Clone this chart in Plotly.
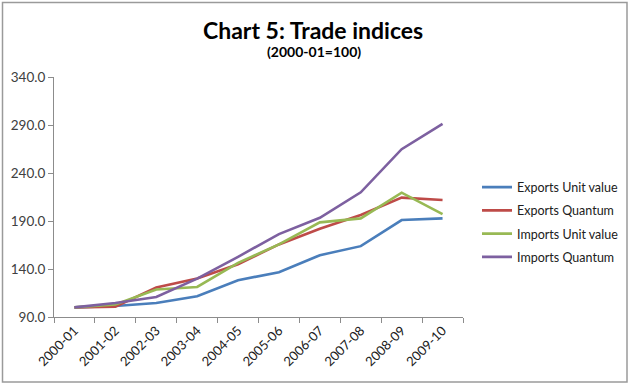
import plotly.graph_objects as go

categories = ["2000-01", "2001-02", "2002-03", "2003-04", "2004-05",
              "2005-06", "2006-07", "2007-08", "2008-09", "2009-10"]
exports_unit_value = [100.0, 101.5, 104.6, 111.6, 128.3, 136.7, 154.4, 163.8, 191.0, 192.7]
exports_quantum = [100.0, 100.8, 120.7, 130.0, 145.0, 165.6, 181.9, 196.2, 214.3, 211.9]
imports_unit_value = [100.0, 103.0, 118.6, 121.3, 146.4, 165.6, 188.6, 192.7, 219.5, 197.2]
imports_quantum = [100.0, 104.6, 110.9, 130.0, 152.7, 176.4, 193.4, 219.9, 264.8, 291.2]
y_ticks = [90, 140, 190, 240, 290, 340]

series = [
    ("Exports Unit value", exports_unit_value, "#4A7EBB"),
    ("Exports Quantum", exports_quantum, "#BE4B48"),
    ("Imports Unit value", imports_unit_value, "#98B954"),
    ("Imports Quantum", imports_quantum, "#7D60A0"),
]

W, H = 630, 385
L, R, T, B = 54, 167, 77, 68
pw, ph = W - L - R, H - T - B

fig = go.Figure()
for i, (name, vals, col) in enumerate(series):
    fig.add_trace(go.Scatter(x=categories, y=vals, mode="lines", name=name,
                             legendgroup=str(i),
                             line=dict(color=col, width=2.6)))

font = "Lato, Calibri, Carlito, sans-serif"

def px_x(px):
    return (px - L) / pw

def px_y(py):
    return 1 - (py - T) / ph

fig.update_layout(
    width=W, height=H,
    margin=dict(l=L, r=R, t=T, b=B, autoexpand=False),
    paper_bgcolor="white", plot_bgcolor="white",
    font=dict(family=font, size=12, color="#404040"),
    showlegend=True,
    legend=dict(x=px_x(477), y=px_y(222), xanchor="left", yanchor="middle",
                font=dict(family=font, size=12.5, color="#202020"),
                tracegroupgap=4, traceorder="grouped",
                bgcolor="rgba(0,0,0,0)", itemwidth=30),
    xaxis=dict(type="category", range=[-0.5, 9.5], showgrid=False,
               showline=True, linecolor="#8c8c8c", linewidth=1,
               ticks="outside", tickson="boundaries", ticklen=5,
               tickcolor="#8c8c8c", tickangle=-45, automargin=False,
               tickfont=dict(family=font, size=13, color="#202020")),
    yaxis=dict(range=[90, 340], tickvals=y_ticks,
               ticktext=[f"{v:.1f}" for v in y_ticks],
               showgrid=False, zeroline=False, automargin=False,
               showline=True, linecolor="#8c8c8c", linewidth=1,
               ticks="outside", ticklen=5, tickcolor="#8c8c8c",
               tickfont=dict(family=font, size=13.5, color="#404040")),
    annotations=[
        dict(text="<b>Chart 5: Trade indices</b>", x=px_x(313), y=px_y(30),
             xref="paper", yref="paper", showarrow=False,
             xanchor="center", yanchor="middle",
             font=dict(family=font, size=23, color="#000000")),
        dict(text="<b>(2000-01=100)</b>", x=px_x(314), y=px_y(52),
             xref="paper", yref="paper", showarrow=False,
             xanchor="center", yanchor="middle",
             font=dict(family=font, size=14, color="#000000")),
    ],
    shapes=[dict(type="rect", xref="paper", yref="paper",
                 x0=px_x(2.5), x1=px_x(627), y0=px_y(382), y1=px_y(2.5),
                 line=dict(color="#9a9a9a", width=1.5), layer="below")],
)

fig.write_html("out.html", config={"displayModeBar": False},
               post_script="document.body.style.margin='0';")
